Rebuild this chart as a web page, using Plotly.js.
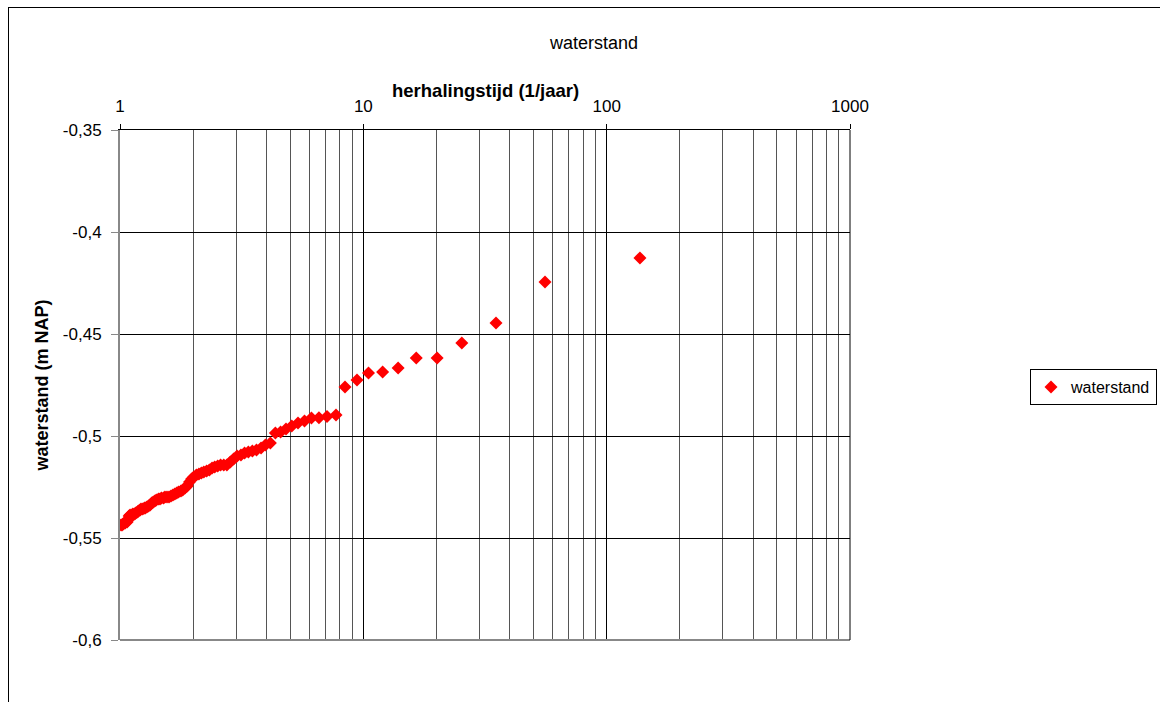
<!DOCTYPE html>
<html>
<head>
<meta charset="utf-8">
<script src="https://cdn.plot.ly/plotly-3.0.1.min.js"></script>
<style>
  html, body { margin: 0; padding: 0; background: #fff; overflow: hidden; }
  #wrap { position: relative; width: 1160px; height: 702px; overflow: hidden; }
  #chart { width: 1160px; height: 702px; }
  #frame { position: absolute; left: 8px; top: 7px; right: -2px; bottom: -2px;
           border-left: 1px solid #000; border-top: 1px solid #000; pointer-events: none; }
</style>
</head>
<body>
<div id="wrap"><div id="chart"></div><div id="frame"></div></div>
<script>
// herhalingstijd (1/jaar)
const returnPeriod = [137, 55.8, 35.1, 25.4, 20.1, 16.5, 13.9, 12.0, 10.5, 9.42, 8.41, 7.72,
  7.09, 6.57, 6.12, 5.73, 5.39, 5.08, 4.81, 4.57, 4.35, 4.15, 3.96, 3.80, 3.64, 3.50, 3.37,
  3.25, 3.14, 3.03, 2.93, 2.84, 2.75, 2.67, 2.59, 2.52, 2.45, 2.39, 2.33, 2.27, 2.21, 2.16,
  2.11, 2.06, 2.01, 1.97, 1.93, 1.89, 1.85, 1.81, 1.78, 1.74, 1.71, 1.68, 1.65, 1.62, 1.59,
  1.56, 1.53, 1.51, 1.48, 1.46, 1.44, 1.41, 1.39, 1.37, 1.35, 1.33, 1.31, 1.29, 1.27, 1.26,
  1.24, 1.22, 1.21, 1.19, 1.18, 1.16, 1.15, 1.13, 1.12, 1.10, 1.09, 1.08, 1.07, 1.05, 1.04,
  1.03, 1.02, 1.01];
// waterstand (m NAP)
const waterLevel = [-0.4127, -0.4245, -0.4446, -0.4544, -0.4618, -0.4618, -0.4667, -0.4686,
  -0.4691, -0.4725, -0.4760, -0.4897, -0.4905, -0.4910, -0.4912, -0.4926, -0.4936, -0.4951,
  -0.4966, -0.4980, -0.4985, -0.5034, -0.5044, -0.5059, -0.5069, -0.5074, -0.5078, -0.5083,
  -0.5093, -0.5098, -0.5113, -0.5127, -0.5142, -0.5142, -0.5142, -0.5147, -0.5152, -0.5157,
  -0.5167, -0.5172, -0.5176, -0.5181, -0.5186, -0.5191, -0.5201, -0.5211, -0.5225, -0.5245,
  -0.5255, -0.5265, -0.5270, -0.5275, -0.5279, -0.5284, -0.5289, -0.5294, -0.5299, -0.5299,
  -0.5299, -0.5304, -0.5304, -0.5309, -0.5309, -0.5314, -0.5319, -0.5324, -0.5328, -0.5338,
  -0.5343, -0.5348, -0.5353, -0.5353, -0.5358, -0.5358, -0.5363, -0.5368, -0.5373, -0.5377,
  -0.5382, -0.5382, -0.5387, -0.5387, -0.5392, -0.5412, -0.5422, -0.5426, -0.5426, -0.5431,
  -0.5436, -0.5436];

const xTickVals = [1, 10, 100, 1000];
const xTickText = ['1', '10', '100', '1000'];
const xMinorVals = [2,3,4,5,6,7,8,9,20,30,40,50,60,70,80,90,200,300,400,500,600,700,800,900];
const yTickVals = [-0.6, -0.55, -0.5, -0.45, -0.4, -0.35];
const yTickText = ['-0,6', '-0,55', '-0,5', '-0,45', '-0,4', '-0,35'];

const FONT = 'Liberation Sans, Arial, sans-serif';

const trace = {
  type: 'scatter', mode: 'markers', name: 'waterstand',
  x: returnPeriod, y: waterLevel,
  marker: { symbol: 'diamond', color: '#FF0000', size: 10, line: { width: 0 } }
};

const layout = {
  width: 1160, height: 702,
  margin: { l: 120, r: 310, t: 130, b: 62, pad: 0, autoexpand: false },
  paper_bgcolor: '#fff', plot_bgcolor: '#fff',
  font: { family: FONT, color: '#000', size: 17 },
  showlegend: true,
  title: { text: 'waterstand', font: { family: FONT, size: 18, color: '#000' },
           x: 594/1160, xanchor: 'center', xref: 'container', y: 1 - 43/702, yanchor: 'middle' },
  xaxis: {
    type: 'log', range: [0, 3], side: 'top',
    tickmode: 'array', tickvals: xTickVals, ticktext: xTickText,
    ticks: 'outside', ticklen: 5, tickcolor: '#000', ticklabelstandoff: 5,
    tickfont: { family: FONT, size: 17, color: '#000' },
    showgrid: true, gridcolor: '#000', gridwidth: 1,
    minor: { tickvals: xMinorVals, showgrid: true, gridcolor: '#555', gridwidth: 1, ticks: '' },
    showline: true, linecolor: '#000', linewidth: 1,
    zeroline: false, fixedrange: true
  },
  yaxis: {
    range: [-0.6, -0.35],
    tickmode: 'array', tickvals: yTickVals, ticktext: yTickText,
    ticks: 'outside', ticklen: 7, tickcolor: '#888', ticklabelstandoff: 6,
    tickfont: { family: FONT, size: 17, color: '#000' },
    showgrid: true, gridcolor: '#000', gridwidth: 1,
    showline: true, linecolor: '#888', linewidth: 2,
    zeroline: false, fixedrange: true,
    title: { text: '<b>waterstand (m NAP)</b>', font: { family: FONT, size: 18, color: '#000' }, standoff: 10 }
  },
  annotations: [
    { text: '<b>herhalingstijd (1/jaar)</b>', xref: 'paper', yref: 'paper',
      x: 0.5, y: (640 - 90) / 510, xanchor: 'center', yanchor: 'middle', showarrow: false,
      font: { family: FONT, size: 18.5, color: '#000' } }
  ],
  legend: {
    xref: 'container', yref: 'container',
    x: 1030/1160, xanchor: 'left', y: 1 - 387/702, yanchor: 'middle',
    bordercolor: '#000', borderwidth: 1, bgcolor: '#fff',
    font: { family: FONT, size: 16, color: '#000' },
    itemwidth: 30
  },
  shapes: [
    { type: 'line', xref: 'paper', yref: 'paper', x0: 0, x1: 1, y0: 0, y1: 0, line: { color: '#888', width: 2 } },
    { type: 'line', xref: 'paper', yref: 'paper', x0: 1, x1: 1, y0: 0, y1: 1, line: { color: '#000', width: 1 } }
  ]
};

Plotly.newPlot('chart', [trace], layout, { staticPlot: true, displayModeBar: false });
</script>
</body>
</html>
